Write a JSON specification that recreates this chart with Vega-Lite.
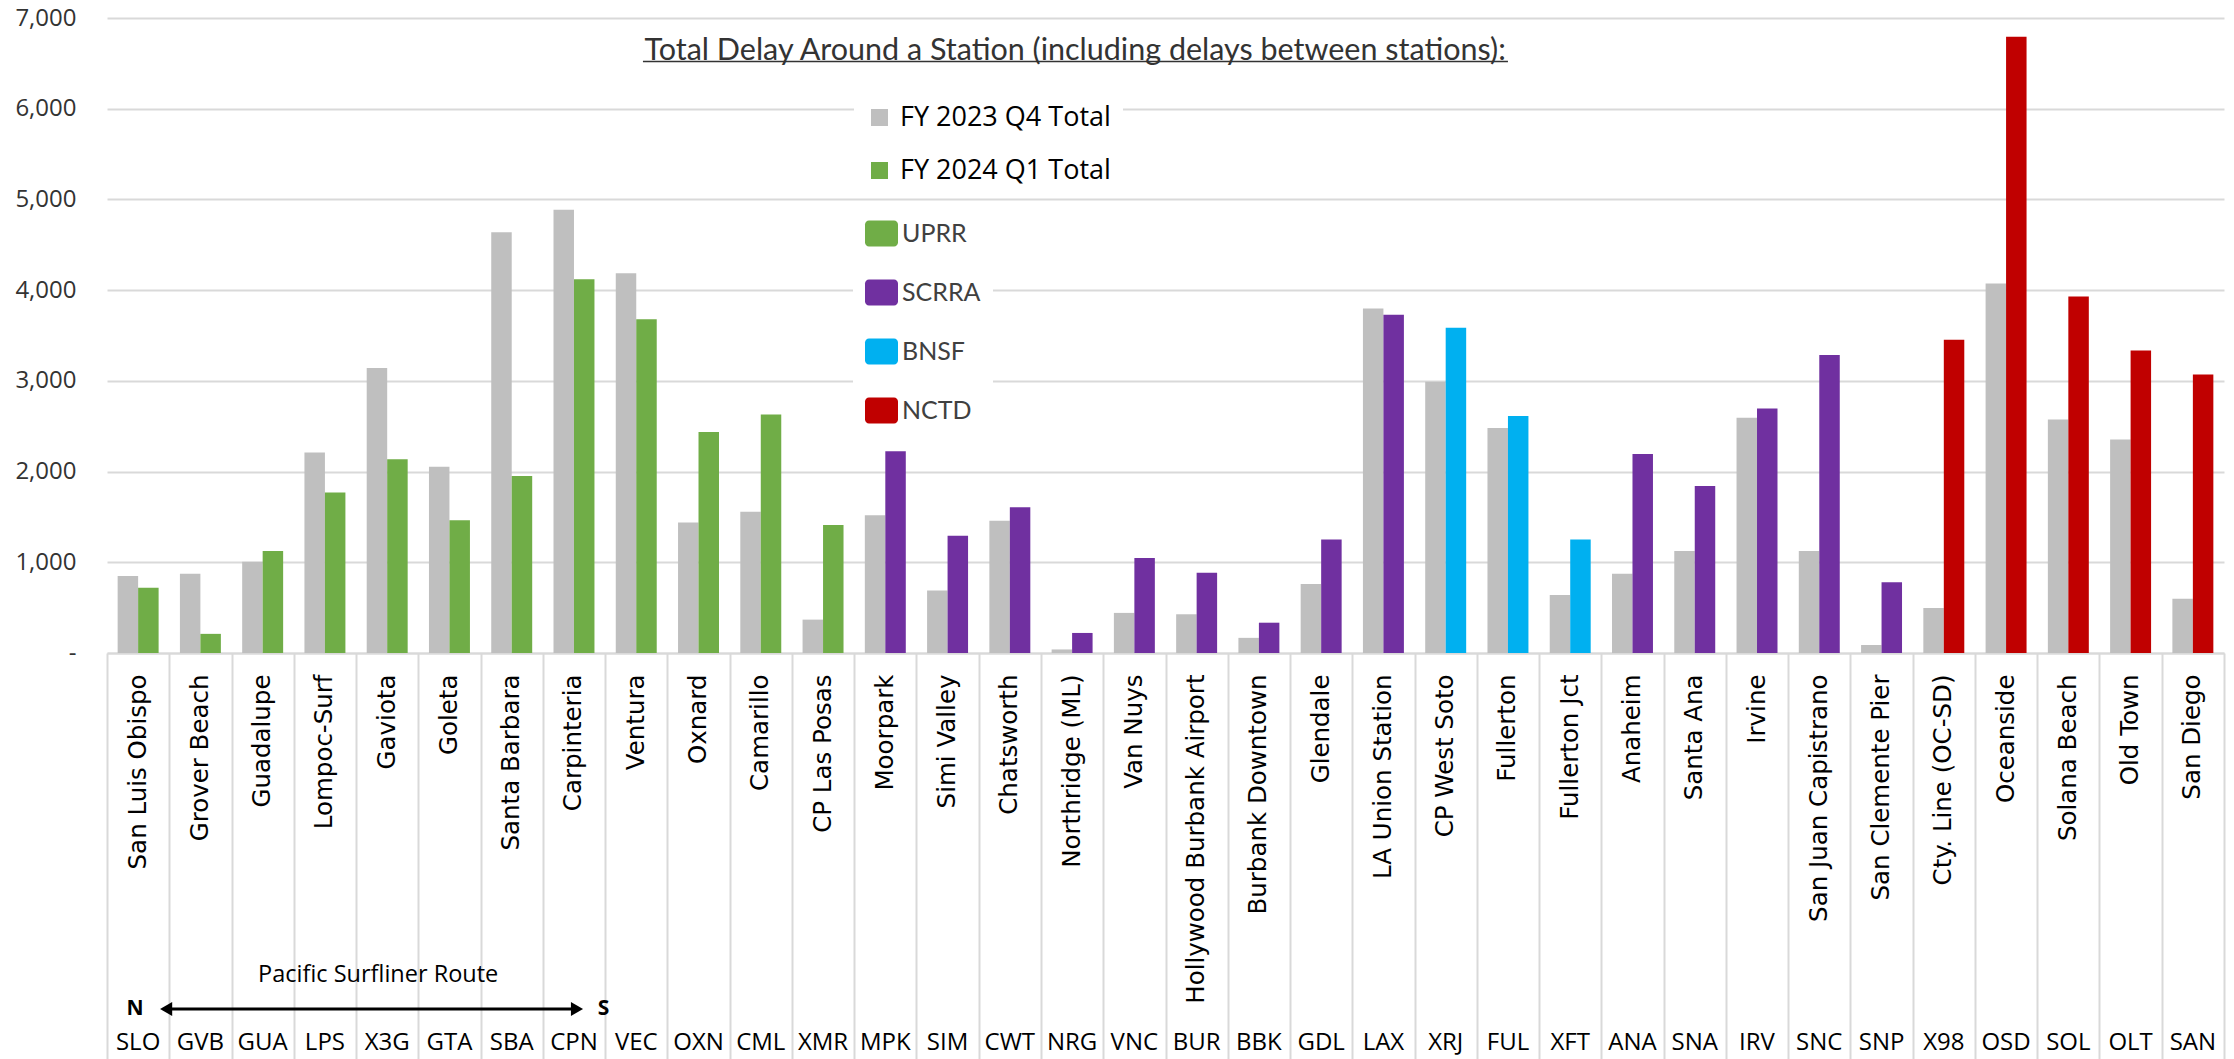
{
  "$schema": "https://vega.github.io/schema/vega-lite/v6.json",
  "width": 2117,
  "height": 635,
  "autosize": {"type": "none"},
  "padding": {"left": 107, "top": 18, "right": 10, "bottom": 406},
  "background": "white",
  "config": {"view": {"stroke": null}},
  "datasets": {
    "delays": [
      {"code": "SLO", "name": "San Luis Obispo", "owner": "UPRR", "period": "FY 2023 Q4 Total", "delay": 850},
      {"code": "SLO", "name": "San Luis Obispo", "owner": "UPRR", "period": "FY 2024 Q1 Total", "delay": 720},
      {"code": "GVB", "name": "Grover Beach", "owner": "UPRR", "period": "FY 2023 Q4 Total", "delay": 875},
      {"code": "GVB", "name": "Grover Beach", "owner": "UPRR", "period": "FY 2024 Q1 Total", "delay": 211},
      {"code": "GUA", "name": "Guadalupe", "owner": "UPRR", "period": "FY 2023 Q4 Total", "delay": 1007},
      {"code": "GUA", "name": "Guadalupe", "owner": "UPRR", "period": "FY 2024 Q1 Total", "delay": 1125},
      {"code": "LPS", "name": "Lompoc-Surf", "owner": "UPRR", "period": "FY 2023 Q4 Total", "delay": 2210},
      {"code": "LPS", "name": "Lompoc-Surf", "owner": "UPRR", "period": "FY 2024 Q1 Total", "delay": 1768},
      {"code": "X3G", "name": "Gaviota", "owner": "UPRR", "period": "FY 2023 Q4 Total", "delay": 3143},
      {"code": "X3G", "name": "Gaviota", "owner": "UPRR", "period": "FY 2024 Q1 Total", "delay": 2137},
      {"code": "GTA", "name": "Goleta", "owner": "UPRR", "period": "FY 2023 Q4 Total", "delay": 2053},
      {"code": "GTA", "name": "Goleta", "owner": "UPRR", "period": "FY 2024 Q1 Total", "delay": 1464},
      {"code": "SBA", "name": "Santa Barbara", "owner": "UPRR", "period": "FY 2023 Q4 Total", "delay": 4637},
      {"code": "SBA", "name": "Santa Barbara", "owner": "UPRR", "period": "FY 2024 Q1 Total", "delay": 1950},
      {"code": "CPN", "name": "Carpinteria", "owner": "UPRR", "period": "FY 2023 Q4 Total", "delay": 4887},
      {"code": "CPN", "name": "Carpinteria", "owner": "UPRR", "period": "FY 2024 Q1 Total", "delay": 4121},
      {"code": "VEC", "name": "Ventura", "owner": "UPRR", "period": "FY 2023 Q4 Total", "delay": 4185},
      {"code": "VEC", "name": "Ventura", "owner": "UPRR", "period": "FY 2024 Q1 Total", "delay": 3679},
      {"code": "OXN", "name": "Oxnard", "owner": "UPRR", "period": "FY 2023 Q4 Total", "delay": 1439},
      {"code": "OXN", "name": "Oxnard", "owner": "UPRR", "period": "FY 2024 Q1 Total", "delay": 2436},
      {"code": "CML", "name": "Camarillo", "owner": "UPRR", "period": "FY 2023 Q4 Total", "delay": 1557},
      {"code": "CML", "name": "Camarillo", "owner": "UPRR", "period": "FY 2024 Q1 Total", "delay": 2628},
      {"code": "XMR", "name": "CP Las Posas", "owner": "UPRR", "period": "FY 2023 Q4 Total", "delay": 368},
      {"code": "XMR", "name": "CP Las Posas", "owner": "UPRR", "period": "FY 2024 Q1 Total", "delay": 1410},
      {"code": "MPK", "name": "Moorpark", "owner": "SCRRA", "period": "FY 2023 Q4 Total", "delay": 1518},
      {"code": "MPK", "name": "Moorpark", "owner": "SCRRA", "period": "FY 2024 Q1 Total", "delay": 2225},
      {"code": "SIM", "name": "Simi Valley", "owner": "SCRRA", "period": "FY 2023 Q4 Total", "delay": 688},
      {"code": "SIM", "name": "Simi Valley", "owner": "SCRRA", "period": "FY 2024 Q1 Total", "delay": 1292},
      {"code": "CWT", "name": "Chatsworth", "owner": "SCRRA", "period": "FY 2023 Q4 Total", "delay": 1459},
      {"code": "CWT", "name": "Chatsworth", "owner": "SCRRA", "period": "FY 2024 Q1 Total", "delay": 1606},
      {"code": "NRG", "name": "Northridge (ML)", "owner": "SCRRA", "period": "FY 2023 Q4 Total", "delay": 39},
      {"code": "NRG", "name": "Northridge (ML)", "owner": "SCRRA", "period": "FY 2024 Q1 Total", "delay": 221},
      {"code": "VNC", "name": "Van Nuys", "owner": "SCRRA", "period": "FY 2023 Q4 Total", "delay": 442},
      {"code": "VNC", "name": "Van Nuys", "owner": "SCRRA", "period": "FY 2024 Q1 Total", "delay": 1046},
      {"code": "BUR", "name": "Hollywood Burbank Airport", "owner": "SCRRA", "period": "FY 2023 Q4 Total", "delay": 427},
      {"code": "BUR", "name": "Hollywood Burbank Airport", "owner": "SCRRA", "period": "FY 2024 Q1 Total", "delay": 884},
      {"code": "BBK", "name": "Burbank Downtown", "owner": "SCRRA", "period": "FY 2023 Q4 Total", "delay": 167},
      {"code": "BBK", "name": "Burbank Downtown", "owner": "SCRRA", "period": "FY 2024 Q1 Total", "delay": 334},
      {"code": "GDL", "name": "Glendale", "owner": "SCRRA", "period": "FY 2023 Q4 Total", "delay": 761},
      {"code": "GDL", "name": "Glendale", "owner": "SCRRA", "period": "FY 2024 Q1 Total", "delay": 1252},
      {"code": "LAX", "name": "LA Union Station", "owner": "SCRRA", "period": "FY 2023 Q4 Total", "delay": 3797},
      {"code": "LAX", "name": "LA Union Station", "owner": "SCRRA", "period": "FY 2024 Q1 Total", "delay": 3728},
      {"code": "XRJ", "name": "CP West Soto", "owner": "BNSF", "period": "FY 2023 Q4 Total", "delay": 2991},
      {"code": "XRJ", "name": "CP West Soto", "owner": "BNSF", "period": "FY 2024 Q1 Total", "delay": 3585},
      {"code": "FUL", "name": "Fullerton", "owner": "BNSF", "period": "FY 2023 Q4 Total", "delay": 2480},
      {"code": "FUL", "name": "Fullerton", "owner": "BNSF", "period": "FY 2024 Q1 Total", "delay": 2613},
      {"code": "XFT", "name": "Fullerton Jct", "owner": "BNSF", "period": "FY 2023 Q4 Total", "delay": 639},
      {"code": "XFT", "name": "Fullerton Jct", "owner": "BNSF", "period": "FY 2024 Q1 Total", "delay": 1252},
      {"code": "ANA", "name": "Anaheim", "owner": "SCRRA", "period": "FY 2023 Q4 Total", "delay": 874},
      {"code": "ANA", "name": "Anaheim", "owner": "SCRRA", "period": "FY 2024 Q1 Total", "delay": 2195},
      {"code": "SNA", "name": "Santa Ana", "owner": "SCRRA", "period": "FY 2023 Q4 Total", "delay": 1125},
      {"code": "SNA", "name": "Santa Ana", "owner": "SCRRA", "period": "FY 2024 Q1 Total", "delay": 1842},
      {"code": "IRV", "name": "Irvine", "owner": "SCRRA", "period": "FY 2023 Q4 Total", "delay": 2593},
      {"code": "IRV", "name": "Irvine", "owner": "SCRRA", "period": "FY 2024 Q1 Total", "delay": 2696},
      {"code": "SNC", "name": "San Juan Capistrano", "owner": "SCRRA", "period": "FY 2023 Q4 Total", "delay": 1125},
      {"code": "SNC", "name": "San Juan Capistrano", "owner": "SCRRA", "period": "FY 2024 Q1 Total", "delay": 3286},
      {"code": "SNP", "name": "San Clemente Pier", "owner": "SCRRA", "period": "FY 2023 Q4 Total", "delay": 88},
      {"code": "SNP", "name": "San Clemente Pier", "owner": "SCRRA", "period": "FY 2024 Q1 Total", "delay": 781},
      {"code": "X98", "name": "Cty. Line (OC-SD)", "owner": "NCTD", "period": "FY 2023 Q4 Total", "delay": 496},
      {"code": "X98", "name": "Cty. Line (OC-SD)", "owner": "NCTD", "period": "FY 2024 Q1 Total", "delay": 3453},
      {"code": "OSD", "name": "Oceanside", "owner": "NCTD", "period": "FY 2023 Q4 Total", "delay": 4072},
      {"code": "OSD", "name": "Oceanside", "owner": "NCTD", "period": "FY 2024 Q1 Total", "delay": 6793},
      {"code": "SOL", "name": "Solana Beach", "owner": "NCTD", "period": "FY 2023 Q4 Total", "delay": 2574},
      {"code": "SOL", "name": "Solana Beach", "owner": "NCTD", "period": "FY 2024 Q1 Total", "delay": 3929},
      {"code": "OLT", "name": "Old Town", "owner": "NCTD", "period": "FY 2023 Q4 Total", "delay": 2353},
      {"code": "OLT", "name": "Old Town", "owner": "NCTD", "period": "FY 2024 Q1 Total", "delay": 3335},
      {"code": "SAN", "name": "San Diego", "owner": "NCTD", "period": "FY 2023 Q4 Total", "delay": 599},
      {"code": "SAN", "name": "San Diego", "owner": "NCTD", "period": "FY 2024 Q1 Total", "delay": 3070}
    ]
  },
  "data": {"name": "delays"},
  "layer": [
    {
      "transform": [{"filter": "datum.period === 'FY 2023 Q4 Total'"}],
      "mark": {"type": "bar"},
      "encoding": {
        "x": {
          "field": "name", "type": "nominal", "sort": null,
          "scale": {
            "domain": ["San Luis Obispo", "Grover Beach", "Guadalupe", "Lompoc-Surf", "Gaviota", "Goleta", "Santa Barbara", "Carpinteria", "Ventura", "Oxnard", "Camarillo", "CP Las Posas", "Moorpark", "Simi Valley", "Chatsworth", "Northridge (ML)", "Van Nuys", "Hollywood Burbank Airport", "Burbank Downtown", "Glendale", "LA Union Station", "CP West Soto", "Fullerton", "Fullerton Jct", "Anaheim", "Santa Ana", "Irvine", "San Juan Capistrano", "San Clemente Pier", "Cty. Line (OC-SD)", "Oceanside", "Solana Beach", "Old Town", "San Diego"],
            "paddingInner": 0, "paddingOuter": 0
          },
          "axis": {
            "title": null, "labelAngle": -90, "labelAlign": "right", "labelBaseline": "middle",
            "labelFont": "DejaVu Sans", "labelFontSize": 24.5, "labelColor": "#000000",
            "labelLimit": 600, "labelPadding": -385, "labelOverlap": false,
            "tickBand": "extent", "tickSize": 406, "tickColor": "#D9D9D9", "tickWidth": 2,
            "domainColor": "#D9D9D9", "domainWidth": 2, "grid": false
          }
        },
        "xOffset": {
          "field": "period", "type": "nominal",
          "scale": {"domain": ["FY 2023 Q4 Total", "FY 2024 Q1 Total"], "paddingInner": 0, "paddingOuter": 0.52}
        },
        "y": {
          "field": "delay", "type": "quantitative",
          "scale": {"domain": [0, 7000], "nice": false},
          "axis": {
            "title": null, "values": [0, 1000, 2000, 3000, 4000, 5000, 6000, 7000],
            "labelExpr": "datum.value === 0 ? '-\u00a0\u00a0' : format(datum.value, ',')",
            "labelFont": "Open Sans", "labelFontSize": 24, "labelColor": "#333333",
            "labelPadding": 31, "ticks": false, "domain": false,
            "grid": true, "gridColor": "#D9D9D9", "gridWidth": 2
          }
        },
        "fill": {
          "field": "period", "type": "nominal",
          "scale": {"domain": ["FY 2023 Q4 Total", "FY 2024 Q1 Total"], "range": ["#BFBFBF", "#70AD47"]},
          "legend": {
            "title": null, "orient": "none", "legendX": 747, "legendY": 74,
            "symbolType": "square", "symbolSize": 289, "symbolStrokeWidth": 0,
            "labelFont": "Open Sans", "labelFontSize": 27, "labelColor": "#000000",
            "labelOffset": 7, "rowPadding": 25, "padding": 12, "fillColor": "#FFFFFF", "labelLimit": 500
          }
        }
      }
    },
    {
      "transform": [{"filter": "datum.period === 'FY 2024 Q1 Total'"}],
      "mark": {"type": "bar"},
      "encoding": {
        "x": {"field": "name", "type": "nominal", "sort": null},
        "xOffset": {"field": "period", "type": "nominal"},
        "y": {"field": "delay", "type": "quantitative"},
        "color": {
          "field": "owner", "type": "nominal",
          "scale": {"domain": ["UPRR", "SCRRA", "BNSF", "NCTD"], "range": ["#70AD47", "#7030A0", "#00B0F0", "#C00000"]},
          "legend": {
            "title": null, "orient": "none", "legendX": 746, "legendY": 187,
            "symbolType": "M-0.76,-0.79L0.76,-0.79A0.24,0.24,0,0,1,1,-0.55L1,0.55A0.24,0.24,0,0,1,0.76,0.79L-0.76,0.79A0.24,0.24,0,0,1,-1,0.55L-1,-0.55A0.24,0.24,0,0,1,-0.76,-0.79Z",
            "symbolSize": 1089, "symbolStrokeWidth": 0,
            "labelFont": "Lato", "labelFontSize": 25, "labelColor": "#404040",
            "labelOffset": 4, "rowPadding": 29, "padding": 12, "fillColor": "#FFFFFF", "labelLimit": 300
          }
        }
      }
    },
    {
      "transform": [{"filter": "datum.period === 'FY 2024 Q1 Total'"}],
      "mark": {"type": "text", "font": "Open Sans", "fontSize": 24, "color": "#000000", "baseline": "middle", "align": "center"},
      "encoding": {
        "x": {"field": "name", "type": "nominal", "sort": null},
        "y": {"datum": -4300, "type": "quantitative"},
        "text": {"field": "code"}
      }
    },
    {
      "data": {"values": [{}]},
      "mark": {"type": "text", "text": "Total Delay Around a Station (including delays between stations):", "font": "Lato", "fontSize": 30.5, "color": "#333333", "baseline": "middle", "align": "center", "dx": 3},
      "encoding": {
        "x": {"datum": "Northridge (ML)", "type": "nominal"},
        "y": {"datum": 6640, "type": "quantitative"}
      }
    },
    {
      "data": {"values": [{}]},
      "mark": {"type": "rule", "color": "#333333", "strokeWidth": 1.5, "xOffset": 6.7, "x2Offset": 0},
      "encoding": {
        "x": {"datum": "Ventura", "type": "nominal"},
        "x2": {"datum": "Fullerton"},
        "y": {"datum": 6520, "type": "quantitative"}
      }
    },
    {
      "data": {"values": [{}]},
      "mark": {"type": "text", "text": "Pacific Surfliner Route", "font": "Open Sans", "fontSize": 23.5, "color": "#000000", "baseline": "middle", "align": "center", "dx": -9},
      "encoding": {
        "x": {"datum": "Gaviota", "type": "nominal"},
        "y": {"datum": -3545, "type": "quantitative"}
      }
    },
    {
      "data": {"values": [{}]},
      "mark": {"type": "text", "text": "N", "font": "Open Sans", "fontWeight": "bold", "fontSize": 21, "color": "#000000", "baseline": "middle", "align": "center", "dx": -3},
      "encoding": {
        "x": {"datum": "San Luis Obispo", "type": "nominal"},
        "y": {"datum": -3925, "type": "quantitative"}
      }
    },
    {
      "data": {"values": [{}]},
      "mark": {"type": "text", "text": "S", "font": "Open Sans", "fontWeight": "bold", "fontSize": 21, "color": "#000000", "baseline": "middle", "align": "center", "dx": 29.6},
      "encoding": {
        "x": {"datum": "Carpinteria", "type": "nominal"},
        "y": {"datum": -3925, "type": "quantitative"}
      }
    },
    {
      "data": {"values": [{}]},
      "mark": {"type": "rule", "color": "#000000", "strokeWidth": 3, "xOffset": 28, "x2Offset": 3},
      "encoding": {
        "x": {"datum": "San Luis Obispo", "type": "nominal"},
        "x2": {"datum": "Carpinteria"},
        "y": {"datum": -3925, "type": "quantitative"}
      }
    },
    {
      "data": {"values": [{}]},
      "mark": {"type": "point", "shape": "triangle-left", "filled": true, "size": 196, "color": "#000000", "opacity": 1, "xOffset": 28},
      "encoding": {
        "x": {"datum": "San Luis Obispo", "type": "nominal"},
        "y": {"datum": -3925, "type": "quantitative"}
      }
    },
    {
      "data": {"values": [{}]},
      "mark": {"type": "point", "shape": "triangle-right", "filled": true, "size": 196, "color": "#000000", "opacity": 1, "xOffset": 3},
      "encoding": {
        "x": {"datum": "Carpinteria", "type": "nominal"},
        "y": {"datum": -3925, "type": "quantitative"}
      }
    }
  ]
}
